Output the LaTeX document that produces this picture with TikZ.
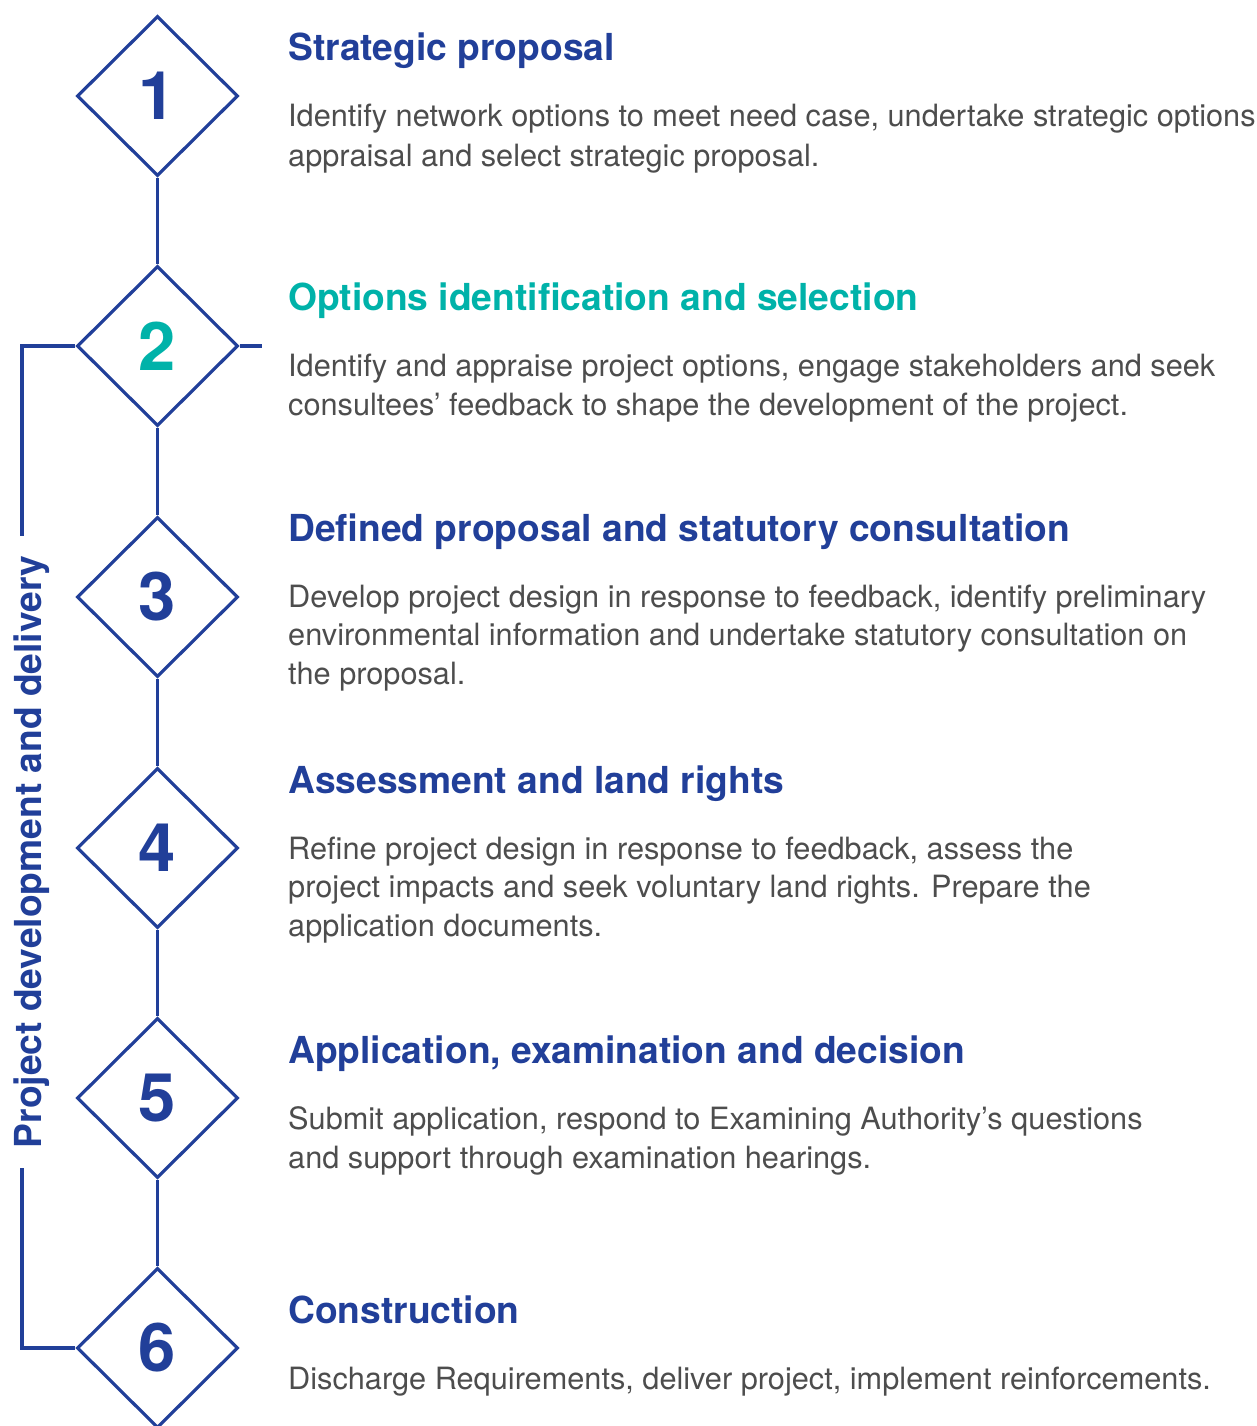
\documentclass[tikz,border=0pt]{standalone}
\usepackage{fontspec}
\setmainfont{TeX Gyre Heros}
\usetikzlibrary{shapes.geometric}
\definecolor{ngblue}{HTML}{213F99}
\definecolor{ngteal}{HTML}{00B2A9}
\definecolor{bodygray}{HTML}{4D4D4D}
\begin{document}
\begin{tikzpicture}[x=1pt,y=-1pt,
  stage/.style={draw=ngblue, line width=3.2pt, shape=diamond, inner sep=0pt,
    minimum width=161pt, minimum height=160pt,
    font=\fontsize{67}{67}\selectfont\bfseries, text=ngblue},
  title/.style={anchor=base west, inner sep=0pt,
    font=\fontsize{37.2}{37.2}\selectfont\bfseries, text=ngblue},
  body/.style={anchor=base west, inner sep=0pt,
    font=\fontsize{30.7}{30.7}\selectfont, text=bodygray},
  link/.style={draw=ngblue, line width=3.2pt}]
\useasboundingbox (0,0) rectangle (1256,1426);

% diamonds
\node[stage] (d1) at (157.5,96) {1};
\node[stage, text=ngteal] (d2) at (157.5,346) {2};
\node[stage] (d3) at (157.5,597) {3};
\node[stage] (d4) at (157.5,848) {4};
\node[stage] (d5) at (157.5,1098) {5};
\node[stage] (d6) at (157.5,1348) {6};

\draw[link] (d1.south) -- (d2.north);
\draw[link] (d2.south) -- (d3.north);
\draw[link] (d3.south) -- (d4.north);
\draw[link] (d4.south) -- (d5.north);
\draw[link] (d5.south) -- (d6.north);

% bracket
\node[rotate=90, anchor=base, inner ysep=0pt, inner xsep=20pt,
  font=\fontsize{37.2}{37.2}\selectfont\bfseries, text=ngblue] (vtext) at (41,852)
  {Project development and delivery};
\coordinate (bx) at (22,0);
\coordinate (stub) at (262,346);
\draw[link] (d2.west) -| (bx |- vtext.east);
\draw[link] (bx |- vtext.west) |- (d6.west);
\draw[link] (d2.east) -- (stub);

% stage 1
\node[title] (t1) at (288,61) {Strategic proposal};
\node[body] (b1a) at (288,127) {Identify network options to meet need case, undertake strategic options};
\node[body] (b1b) at (288,166) {appraisal and select strategic proposal.};

% stage 2
\node[title, text=ngteal] (t2) at (288,310) {Options identification and selection};
\node[body] (b2a) at (288,376) {Identify and appraise project options, engage stakeholders and seek};
\node[body] (b2b) at (288,415) {consultees’ feedback to shape the development of the project.};

% stage 3
\node[title] (t3) at (288,541) {Defined proposal and statutory consultation};
\node[body] (b3a) at (288,607) {Develop project design in response to feedback, identify preliminary};
\node[body] (b3b) at (288,645) {environmental information and undertake statutory consultation on};
\node[body] (b3c) at (288,684) {the proposal.};

% stage 4
\node[title] (t4) at (288,793) {Assessment and land rights};
\node[body] (b4a) at (288,859) {Refine project design in response to feedback, assess the};
\node[body] (b4b) at (288,897) {project impacts and seek voluntary land rights. Prepare the};
\node[body] (b4c) at (288,936) {application documents.};

% stage 5
\node[title] (t5) at (288,1063) {Application, examination and decision};
\node[body] (b5a) at (288,1129) {Submit application, respond to Examining Authority’s questions};
\node[body] (b5b) at (288,1168) {and support through examination hearings.};

% stage 6
\node[title] (t6) at (288,1323) {Construction};
\node[body] (b6a) at (288,1389) {Discharge Requirements, deliver project, implement reinforcements.};
\end{tikzpicture}
\end{document}
